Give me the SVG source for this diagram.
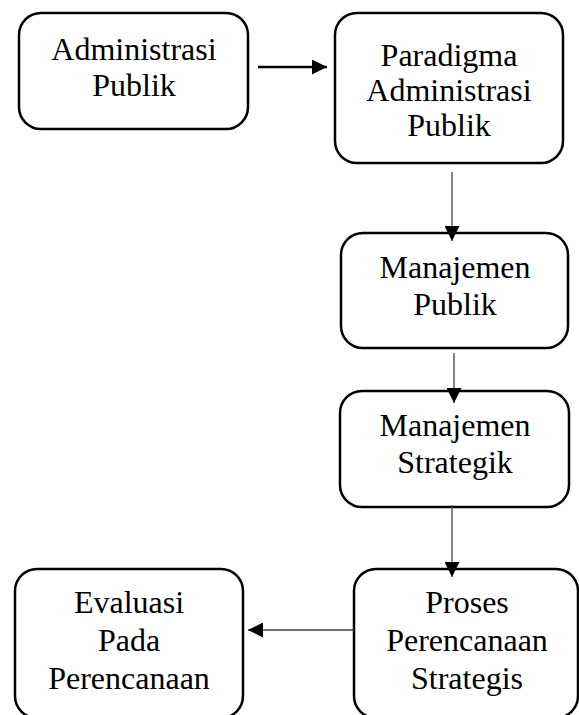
<svg xmlns="http://www.w3.org/2000/svg" width="579" height="715" viewBox="0 0 579 715">
<style>
.box{fill:#fff;stroke:#000;stroke-width:2.5}
.t{font-family:"Liberation Serif","Times New Roman",serif;font-size:32px;fill:#000;text-anchor:middle}
.thick{stroke:#000;stroke-width:2.5;fill:none}
.thin{stroke:#444;stroke-width:1.3;fill:none}
</style>
<defs>
<marker id="head" markerUnits="userSpaceOnUse" markerWidth="15" markerHeight="15" refX="15" refY="7.5" orient="auto">
<path d="M0,0 L15,7.5 L0,15 Z" fill="#000"/>
</marker>
</defs>
<rect width="579" height="715" fill="#fff"/>
<g id="n1">
<rect class="box" x="19" y="13" width="229" height="116" rx="22"/>
<text class="t" x="134" y="60">Administrasi</text>
<text class="t" x="134" y="96">Publik</text>
</g>
<g id="n2">
<rect class="box" x="335" y="13" width="228" height="150" rx="22"/>
<text class="t" x="449" y="66">Paradigma</text>
<text class="t" x="449" y="101">Administrasi</text>
<text class="t" x="449" y="136">Publik</text>
</g>
<g id="n3">
<rect class="box" x="341" y="233" width="227" height="115" rx="22"/>
<text class="t" x="455" y="278">Manajemen</text>
<text class="t" x="455" y="315">Publik</text>
</g>
<g id="n4">
<rect class="box" x="340" y="391" width="229" height="116" rx="22"/>
<text class="t" x="455" y="436">Manajemen</text>
<text class="t" x="455" y="473">Strategik</text>
</g>
<g id="n5">
<rect class="box" x="354" y="569" width="224" height="149" rx="22"/>
<text class="t" x="467" y="613">Proses</text>
<text class="t" x="467" y="651">Perencanaan</text>
<text class="t" x="467" y="689">Strategis</text>
</g>
<g id="n6">
<rect class="box" x="15" y="569" width="228" height="149" rx="22"/>
<text class="t" x="129" y="613">Evaluasi</text>
<text class="t" x="129" y="651">Pada</text>
<text class="t" x="129" y="689">Perencanaan</text>
</g>
<g id="connectors">
<line class="thick" x1="258" y1="67" x2="327" y2="67" marker-end="url(#head)"/>
<line class="thin" x1="452" y1="172" x2="452" y2="241" marker-end="url(#head)"/>
<line class="thin" x1="454" y1="353" x2="454" y2="403" marker-end="url(#head)"/>
<line class="thin" x1="452" y1="505" x2="452" y2="577" marker-end="url(#head)"/>
<line class="thin" x1="354" y1="630" x2="248" y2="630" marker-end="url(#head)"/>
</g>
</svg>
